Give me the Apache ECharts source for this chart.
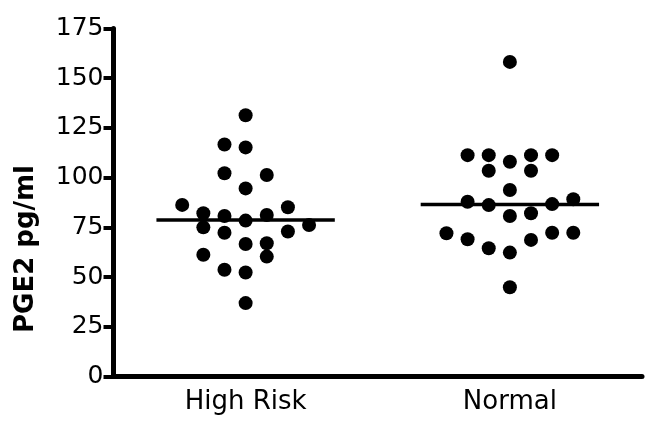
<!DOCTYPE html>
<html>
<head>
<meta charset="utf-8">
<script src="https://cdn.jsdelivr.net/npm/echarts@6/dist/echarts.min.js"></script>
<style>
html,body{margin:0;padding:0;background:#fff;}
#chart{width:657px;height:433px;}
</style>
</head>
<body>
<div id="chart"></div>
<script>
// Categories and tick labels
var categories = ['High Risk', 'Normal'];
var yTicks = { min: 0, max: 175, interval: 25 };
var yTitle = 'PGE2 pg/ml';

// High Risk group: PGE2 values and their column slot in the dot plot
var highRiskValues = [131.4, 116.7, 115.2, 102.2, 101.3, 94.6, 86.3, 85.1, 82.1, 80.7, 81.2, 78.4, 75.0, 76.2, 72.3, 72.9, 66.6, 67.0, 60.3, 61.2, 53.7, 52.3, 36.9];
var highRiskSlots  = [0, -1, 0, -1, 1, 0, -3, 2, -2, -1, 1, 0, -2, 3, -1, 2, 0, 1, 1, -2, -1, 0, 0];

// Normal group
var normalValues = [158.2, 111.3, 111.3, 108.0, 111.3, 111.3, 103.5, 103.5, 93.8, 87.9, 89.1, 86.2, 86.7, 80.7, 82.1, 72.0, 69.0, 72.3, 72.3, 68.7, 64.5, 62.3, 44.9];
var normalSlots  = [0, -2, -1, 0, 1, 2, -1, 1, 0, -2, 3, -1, 2, 0, 1, -3, -2, 2, 3, 1, -1, 0, 0];

// Median lines
var medians = [78.7, 86.5];

var slotWidth = 0.16;      // spacing of dot columns (in x-units, category center spacing = 2)
var medianHalf = 0.675;    // half-length of median bar (x-units)
var centers = [1, 3];

function buildPoints(values, slots, center) {
  return values.map(function (v, i) { return [center + slots[i] * slotWidth, v]; });
}
function buildMedian(m, center) {
  return [[center - medianHalf, m], [center + medianHalf, m]];
}

var chart = echarts.init(document.getElementById('chart'), null, { renderer: 'canvas' });
var font = 'DejaVu Sans';
var option = {
  backgroundColor: '#ffffff',
  animation: false,
  grid: { left: 113.5, right: 15, top: 28.5, bottom: 56.5, containLabel: false },
  xAxis: [
    {
      type: 'category',
      data: categories,
      boundaryGap: true,
      axisLine: { lineStyle: { color: '#000', width: 5 } },
      axisTick: { alignWithLabel: true, length: 10, lineStyle: { color: '#000', width: 4.5 } },
      axisLabel: { color: '#000', fontFamily: font, fontSize: 26, margin: 13 },
      splitLine: { show: false }
    },
    {
      type: 'value', min: 0, max: 4, show: false
    }
  ],
  yAxis: {
    type: 'value',
    min: yTicks.min, max: yTicks.max, interval: yTicks.interval,
    axisLine: { show: true, lineStyle: { color: '#000', width: 5 } },
    axisTick: { show: true, length: 10, lineStyle: { color: '#000', width: 4 } },
    axisLabel: { color: '#000', fontFamily: font, fontSize: 25, margin: 10 },
    splitLine: { show: false }
  },
  graphic: [{
    type: 'text',
    x: 26, y: 249,
    rotation: Math.PI / 2,
    style: {
      text: yTitle,
      fontFamily: font, fontSize: 26, fontWeight: 'bold',
      fill: '#000', align: 'center', verticalAlign: 'middle'
    }
  }],
  series: [
    {
      type: 'line', xAxisIndex: 1, data: buildMedian(medians[0], centers[0]),
      symbol: 'none', lineStyle: { color: '#000', width: 3.5 }, z: 1
    },
    {
      type: 'line', xAxisIndex: 1, data: buildMedian(medians[1], centers[1]),
      symbol: 'none', lineStyle: { color: '#000', width: 3.5 }, z: 1
    },
    {
      type: 'scatter', xAxisIndex: 1, data: buildPoints(highRiskValues, highRiskSlots, centers[0]),
      symbol: 'circle', symbolSize: 14, itemStyle: { color: '#000', opacity: 1 }, z: 2
    },
    {
      type: 'scatter', xAxisIndex: 1, data: buildPoints(normalValues, normalSlots, centers[1]),
      symbol: 'circle', symbolSize: 14, itemStyle: { color: '#000', opacity: 1 }, z: 2
    }
  ]
};
chart.setOption(option);
</script>
</body>
</html>
